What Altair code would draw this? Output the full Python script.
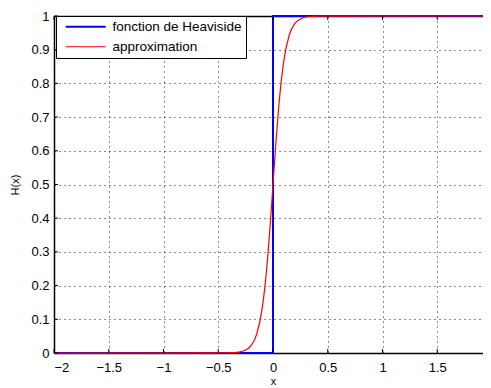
import altair as alt
import pandas as pd

# Heaviside step
heav_x = [-2.0, 0.0, 0.0, 2.0]
heav_y = [0.0, 0.0, 1.0, 1.0]

# smooth approximation
approx_x = [-2.0, -0.5, -0.4, -0.3, -0.25, -0.2, -0.15, -0.1, -0.075, -0.05, -0.025,
            0.0, 0.025, 0.05, 0.075, 0.1, 0.15, 0.2, 0.25, 0.3, 0.4, 0.5, 2.0]
approx_y = [0.0, 0.0001, 0.0005, 0.0033, 0.0086, 0.022, 0.055, 0.13, 0.194, 0.279, 0.383,
            0.5, 0.617, 0.721, 0.806, 0.87, 0.945, 0.978, 0.991, 0.997, 0.9995, 0.9999, 1.0]

series_names = ["fonction de Heaviside", "approximation"]
series_colors = ["#0000ff", "#ff0000"]
series_widths = [2.0, 1.2]

x_ticks = [-2, -1.5, -1, -0.5, 0, 0.5, 1, 1.5, 2]
y_ticks = [0, 0.1, 0.2, 0.3, 0.4, 0.5, 0.6, 0.7, 0.8, 0.9, 1]

rows = []
for i, (x, y) in enumerate(zip(heav_x, heav_y)):
    rows.append({"x": x, "y": y, "series": series_names[0], "idx": i})
for i, (x, y) in enumerate(zip(approx_x, approx_y)):
    rows.append({"x": x, "y": y, "series": series_names[1], "idx": i})
df = pd.DataFrame(rows)

xt = pd.DataFrame({"x": x_ticks})
yt = pd.DataFrame({"y": y_ticks})

W, H = 429, 337
FONT = "Liberation Sans"

xscale = alt.Scale(domain=[-2, 2], range=[0, 438], nice=False, zero=False)
yscale = alt.Scale(domain=[0, 1], nice=False, zero=False)

legend = alt.Legend(title=None, orient="none", legendX=2, legendY=0)
color = alt.Color("series:N", scale=alt.Scale(domain=series_names, range=series_colors),
                  legend=legend)
swidth = alt.StrokeWidth("series:N", scale=alt.Scale(domain=series_names, range=series_widths),
                         legend=legend)

x_axis = alt.Axis(values=x_ticks, format="~g", title="x", grid=True, ticks=False,
                  labelPadding=8, titlePadding=1)
y_axis = alt.Axis(values=y_ticks, format="~g", title="H(x)", grid=True, ticks=False,
                  labelPadding=5, titlePadding=10)

def line_layer(name):
    return alt.Chart(df).transform_filter(alt.datum.series == name).mark_line(
        interpolate="monotone", clip=False
    ).encode(
        x=alt.X("x:Q", scale=xscale, axis=x_axis),
        y=alt.Y("y:Q", scale=yscale, axis=y_axis),
        order="idx:Q",
        color=color,
        strokeWidth=swidth,
    )

blue = line_layer(series_names[0])
red = line_layer(series_names[1])

bottom_ticks = alt.Chart(xt).mark_rule(color="black", strokeWidth=1).encode(
    x=alt.X("x:Q", scale=xscale, axis=x_axis), y=alt.value(H), y2=alt.value(H - 4))
left_ticks = alt.Chart(yt).mark_rule(color="black", strokeWidth=1).encode(
    y=alt.Y("y:Q", scale=yscale, axis=y_axis), x=alt.value(0), x2=alt.value(4))
top_ticks = alt.Chart(xt).mark_rule(color="black", strokeWidth=1).encode(
    x=alt.X("x:Q", scale=xscale, axis=alt.Axis(orient="top", values=x_ticks, labels=False,
                                                ticks=False, grid=False, title=None,
                                                domain=True)),
    y=alt.value(0), y2=alt.value(4))

main = alt.layer(blue, red, bottom_ticks, left_ticks)

chart = alt.layer(main, top_ticks).resolve_scale(
    x="independent"
).properties(
    width=W, height=H,
    autosize=alt.AutoSizeParams(type="none"),
    padding={"left": 46, "top": 8, "right": 0, "bottom": 34},
).configure_view(stroke=None).configure_axis(
    domainColor="black", domainWidth=1.5,
    gridColor="#000000", gridDash=[1, 4], gridWidth=1, gridOpacity=0.9,
    labelFont=FONT, labelFontSize=13, labelColor="black",
    titleFont=FONT, titleFontSize=11, titleFontWeight="normal", titleColor="black",
).configure_legend(
    labelFont=FONT, labelFontSize=13.5, labelColor="black",
    symbolType="M-4,0H4", symbolSize=100, symbolOffset=19,
    labelOffset=20, rowPadding=5, padding=4,
    strokeColor="black", fillColor="white",
)

chart.save("out.html", embed_options={"renderer": "svg", "actions": False})
